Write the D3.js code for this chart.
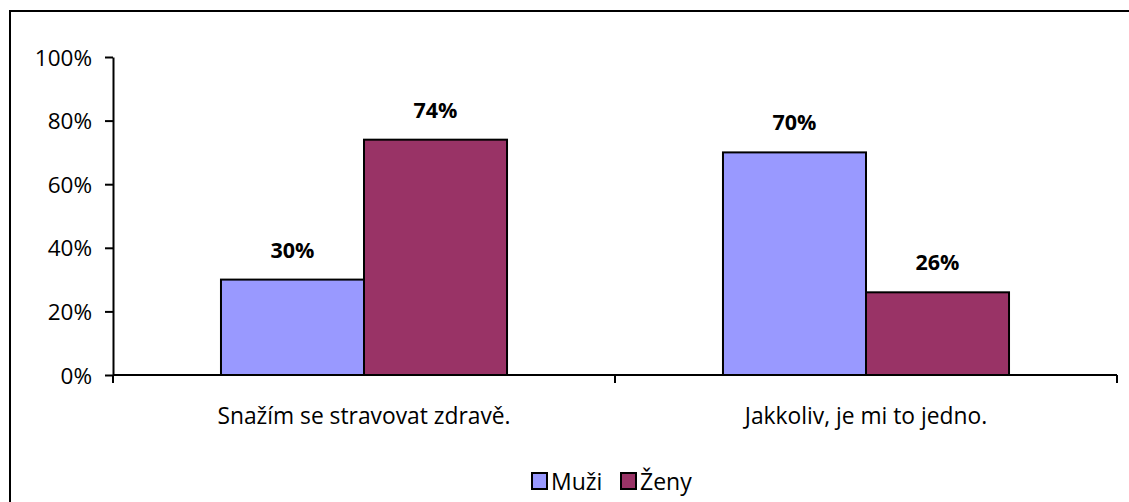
<!DOCTYPE html>
<html>
<head>
<meta charset="utf-8">
<script src="https://cdn.jsdelivr.net/npm/d3@7"></script>
<style>
  html, body { margin: 0; padding: 0; background: #fff; }
  svg { display: block; }
  text { font-family: "Open Sans", sans-serif; fill: #000; }
</style>
</head>
<body>
<script>
// Data
const categories = ["Snažím se stravovat zdravě.", "Jakkoliv, je mi to jedno."];
const seriesNames = ["Muži", "Ženy"];
const muzi = [30, 70];
const zeny = [74, 26];
const yTicks = [0, 20, 40, 60, 80, 100];
const colors = ["#9999FF", "#993366"];

const W = 1129, H = 502;
const svg = d3.select("body").append("svg").attr("width", W).attr("height", H);

// Outer frame (extends past the right and bottom edges)
svg.append("rect")
  .attr("x", 10).attr("y", 11)
  .attr("width", W + 20).attr("height", H + 20)
  .attr("fill", "none").attr("stroke", "#000").attr("stroke-width", 2);

const plot = { left: 113, right: 1117, top: 57, bottom: 375 };

const x0 = d3.scaleBand().domain(categories).range([plot.left, plot.right]).paddingInner(0).paddingOuter(0);
const x1 = d3.scaleBand().domain(seriesNames).range([0, x0.bandwidth()]).paddingInner(0).paddingOuter(0.755);
const y = d3.scaleLinear().domain([0, 100]).range([plot.bottom, plot.top]);

// Y axis
const yAxis = d3.axisLeft(y).tickValues(yTicks).tickFormat(d => d + "%").tickSize(8).tickSizeOuter(0);
const gy = svg.append("g").attr("transform", `translate(${plot.left},0)`).call(yAxis);
gy.select(".domain").attr("stroke", "#000").attr("stroke-width", 2);
gy.selectAll(".tick line").attr("stroke", "#000").attr("stroke-width", 2);
gy.selectAll(".tick text").attr("font-size", 22.5).attr("x", -21).attr("dy", "0.36em")
  .style("font-family", "'Open Sans', sans-serif");

// X axis with tick marks at category boundaries
svg.append("line")
  .attr("x1", plot.left).attr("x2", plot.right)
  .attr("y1", plot.bottom).attr("y2", plot.bottom)
  .attr("stroke", "#000").attr("stroke-width", 2);
const bounds = categories.map(c => x0(c)).concat([x0(categories[categories.length - 1]) + x0.bandwidth()]);
svg.selectAll(".xtick").data(bounds).enter().append("line")
  .attr("x1", d => d).attr("x2", d => d)
  .attr("y1", plot.bottom).attr("y2", plot.bottom + 8)
  .attr("stroke", "#000").attr("stroke-width", 2);

svg.selectAll(".xlabel").data(categories).enter().append("text")
  .attr("x", d => x0(d) + x0.bandwidth() / 2)
  .attr("y", 424)
  .attr("text-anchor", "middle")
  .attr("font-size", 22.8)
  .text(d => d);

// Bars
const rows = categories.map((c, i) => ({ cat: c, vals: [muzi[i], zeny[i]] }));
const groups = svg.selectAll(".grp").data(rows).enter().append("g")
  .attr("transform", d => `translate(${x0(d.cat)},0)`);

groups.selectAll("rect").data(d => d.vals.map((v, j) => ({ name: seriesNames[j], v, j })))
  .enter().append("rect")
  .attr("x", d => x1(d.name))
  .attr("y", d => y(d.v))
  .attr("width", x1.bandwidth())
  .attr("height", d => y(0) - y(d.v))
  .attr("fill", d => colors[d.j])
  .attr("stroke", "#000").attr("stroke-width", 2);

groups.selectAll(".val").data(d => d.vals.map((v, j) => ({ name: seriesNames[j], v, j })))
  .enter().append("text")
  .attr("x", d => x1(d.name) + x1.bandwidth() / 2)
  .attr("y", d => y(d.v) - 22)
  .attr("text-anchor", "middle")
  .attr("font-size", 21.5)
  .attr("font-weight", "bold")
  .text(d => d.v + "%");

// Legend
const legend = svg.append("g");
const legendItems = [{ x: 532, name: seriesNames[0] }, { x: 621, name: seriesNames[1] }];
legendItems.forEach((it, i) => {
  legend.append("rect")
    .attr("x", it.x).attr("y", 473).attr("width", 15).attr("height", 16)
    .attr("fill", colors[i]).attr("stroke", "#000").attr("stroke-width", 2);
  legend.append("text")
    .attr("x", it.x + 19).attr("y", 490)
    .attr("font-size", 23)
    .text(it.name);
});
</script>
</body>
</html>
